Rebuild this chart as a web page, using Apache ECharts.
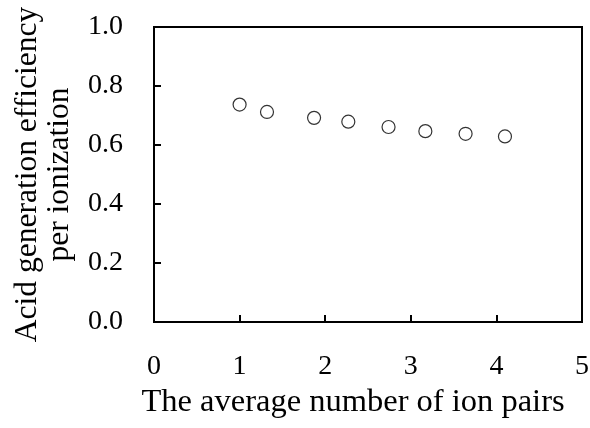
<!DOCTYPE html>
<html>
<head>
    <meta charset="utf-8">
    <title>ECharts</title>
    <script src="https://cdn.jsdelivr.net/npm/echarts@6/dist/echarts.min.js"></script>
    <style>
        html, body { margin: 0; padding: 0; background: #fff; }
    </style>
</head>
<body>
    <div id="main" style="width: 590px;height:428px;"></div>
    <script type="text/javascript">
        // values
        var ionPairs = [1.0, 1.32, 1.87, 2.27, 2.74, 3.17, 3.64, 4.10];
        var efficiency = [0.737, 0.712, 0.692, 0.679, 0.661, 0.647, 0.638, 0.629];
        var xTicks = [0, 1, 2, 3, 4, 5];
        var yTicks = ['0.0', '0.2', '0.4', '0.6', '0.8', '1.0'];

        var points = [];
        for (var i = 0; i < ionPairs.length; i++) {
            points.push([ionPairs[i], efficiency[i]]);
        }

        var font = 'Liberation Serif';
        var myChart = echarts.init(document.getElementById('main'));
        var option = {
            animation: false,
            grid: {
                left: 154, right: 8, top: 27, bottom: 106,
                outerBoundsMode: 'none',
                containLabel: false,
                show: true, borderColor: '#000', borderWidth: 2
            },
            xAxis: {
                type: 'value',
                min: xTicks[0], max: xTicks[xTicks.length - 1], interval: 1,
                name: 'The average number of ion pairs',
                nameLocation: 'middle',
                nameGap: 60,
                nameTextStyle: { fontFamily: font, fontSize: 32.5, color: '#000', padding: [0, 30, 0, 0] },
                axisLine: { lineStyle: { color: '#000', width: 2 } },
                axisTick: { inside: true, length: 7, lineStyle: { color: '#000', width: 2 } },
                axisLabel: { margin: 31, fontFamily: font, fontSize: 28, color: '#000' },
                splitLine: { show: false }
            },
            yAxis: {
                type: 'value',
                min: 0, max: 1, interval: 0.2,
                name: 'Acid generation efficiency\nper ionization',
                nameLocation: 'middle',
                nameRotate: 90,
                nameGap: 78,
                nameTextStyle: { fontFamily: font, fontSize: 31.5, color: '#000', lineHeight: 32 },
                axisLine: { lineStyle: { color: '#000', width: 2 } },
                axisTick: { inside: true, length: 7, lineStyle: { color: '#000', width: 2 } },
                axisLabel: {
                    margin: 31, fontFamily: font, fontSize: 28, color: '#000',
                    formatter: function (v) { return yTicks[Math.round(v / 0.2)]; }
                },
                splitLine: { show: false }
            },
            series: [{
                type: 'scatter',
                data: points,
                symbol: 'circle',
                symbolSize: 13,
                itemStyle: { color: '#fff', borderColor: '#000', borderWidth: 1.2 }
            }]
        };
        myChart.setOption(option);
    </script>
</body>
</html>
